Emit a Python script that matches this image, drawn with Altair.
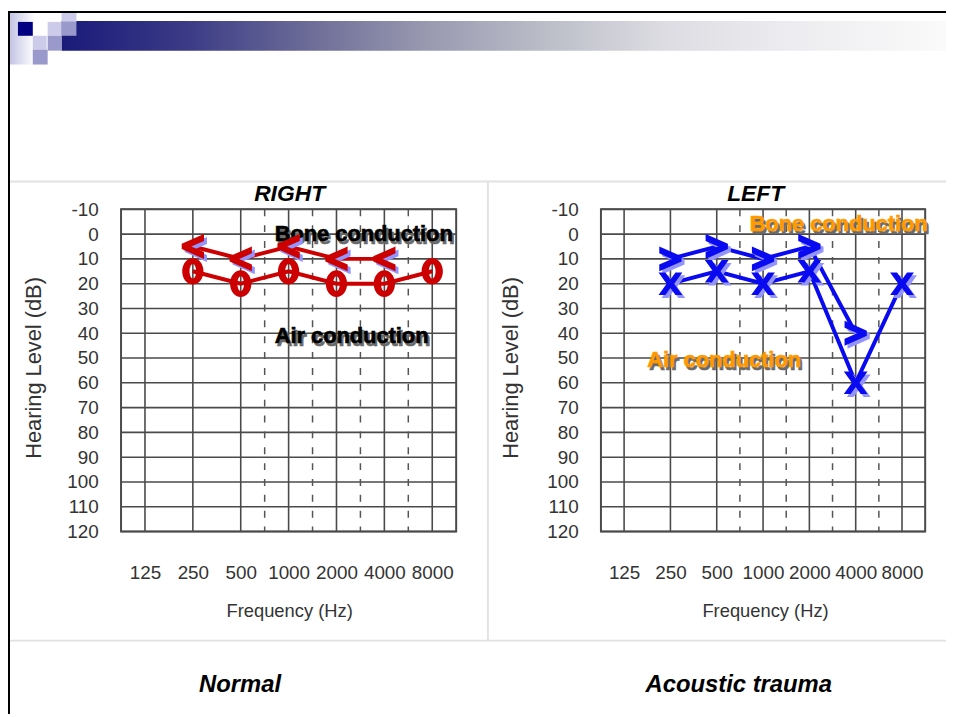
import altair as alt
import pandas as pd

# ---------------- data ----------------
freqs = [125, 250, 500, 1000, 2000, 4000, 8000]
half_octaves = [750, 1500, 3000, 6000]
db_ticks = list(range(-10, 121, 10))

right_air_freq = [250, 500, 1000, 2000, 4000, 8000]
right_air_db = [15, 20, 15, 20, 20, 15]
right_bone_freq = [250, 500, 1000, 2000, 4000]
right_bone_db = [5, 10, 5, 10, 10]

left_air_freq = [250, 500, 1000, 2000, 4000, 8000]
left_air_db = [20, 15, 20, 15, 60, 20]
left_bone_freq = [250, 500, 1000, 2000, 4000]
left_bone_db = [10, 5, 10, 5, 40]

panel_titles = ["RIGHT", "LEFT"]
captions = ["Normal", "Acoustic trauma"]
x_title = "Frequency (Hz)"
y_title = "Hearing Level (dB)"
bone_label = "Bone conduction"
air_label = "Air conduction"

# ---------------- layout / style ----------------
W, H = 946, 709
XR = {"R": [114, 452], "L": [598, 925]}
YR = [200, 525]
SANS = "Liberation Sans, Arial, Helvetica, sans-serif"
GRID = "#4a4a4a"
RED = "#cc0000"
BLUE = "#0a0af0"
SHADOW = "#9494ff"
ORANGE = "#ff9900"
TICK = "#333333"

ONE = pd.DataFrame({"k": [0]})
OCT = "log(datum.f/125)/LN2"

O_PATH = ("M0,-1 C0.442,-1 0.8,-0.552 0.8,0 C0.8,0.552 0.442,1 0,1 "
          "C-0.442,1 -0.8,0.552 -0.8,0 C-0.8,-0.552 -0.442,-1 0,-1 Z "
          "M0,-0.55 C-0.138,-0.55 -0.25,-0.304 -0.25,0 C-0.25,0.304 -0.138,0.55 0,0.55 "
          "C0.138,0.55 0.25,0.304 0.25,0 C0.25,-0.304 0.138,-0.55 0,-0.55 Z")
X_PATH = ("M-0.95,-0.9 L-0.4,-0.9 L0,-0.34 L0.4,-0.9 L0.95,-0.9 L0.3,0 "
          "L0.95,0.9 L0.4,0.9 L0,0.34 L-0.4,0.9 L-0.95,0.9 L-0.3,0 Z")
LT_PATH = "M0.85,-0.95 L0.85,-0.42 L-0.12,0 L0.85,0.42 L0.85,0.95 L-0.85,0.2 L-0.85,-0.2 Z"
GT_PATH = "M-0.85,-0.95 L-0.85,-0.42 L0.12,0 L-0.85,0.42 L-0.85,0.95 L0.85,0.2 L0.85,-0.2 Z"


def xsc(p):
    return alt.Scale(domain=[-0.5, 6.5], range=XR[p], nice=False, zero=False)


def ysc():
    return alt.Scale(domain=[-10, 120], range=YR, nice=False, zero=False)


def box(x1, x2, y1, y2, fill):
    return alt.Chart(ONE).mark_rect(fill=fill, strokeWidth=0).encode(
        x=alt.value(x1), x2=alt.value(x2), y=alt.value(y1), y2=alt.value(y2))


def label(text, x, y, size, color="#000", weight="normal", style="normal",
          font=SANS, angle=0):
    return alt.Chart(ONE).mark_text(
        text=text, fontSize=size, color=color, fontWeight=weight, fontStyle=style,
        font=font, angle=angle, align="center", baseline="middle"
    ).encode(x=alt.value(x), y=alt.value(y))


layers = []

# ---------------- slide decoration ----------------
layers.append(box(2, 27, 0, 54, alt.Gradient(
    gradient="linear", x1=0, x2=1, y1=0, y2=0,
    stops=[alt.GradientStop(color="#c4c4e4", offset=0),
           alt.GradientStop(color="#ffffff", offset=1)])))
layers.append(box(54, W, 10, 40, alt.Gradient(
    gradient="linear", x1=0, x2=1, y1=0, y2=0,
    stops=[alt.GradientStop(color="#1a1a7a", offset=0),
           alt.GradientStop(color="#3a3a86", offset=0.14),
           alt.GradientStop(color="#6c6c98", offset=0.28),
           alt.GradientStop(color="#9898b0", offset=0.41),
           alt.GradientStop(color="#bcbec8", offset=0.55),
           alt.GradientStop(color="#dcdce2", offset=0.68),
           alt.GradientStop(color="#ececf0", offset=0.82),
           alt.GradientStop(color="#fafafa", offset=1)])))
layers.append(box(10, 25, 11, 25, "#000080"))
layers.append(box(25, 39, 25, 39, "#ccccea"))
layers.append(box(25, 40, 39, 54, "#9999cc"))
layers.append(box(40, 54, 11, 25, "#ccccea"))
layers.append(box(40, 54, 25, 40, "#9999cc"))
layers.append(box(54, 69, 0, 11, "#ccccea"))
layers.append(box(54, 69, 11, 25, "#9999cc"))
layers.append(box(0, W, 0, 2, "#000000"))
layers.append(box(0, 2, 0, H, "#000000"))
layers.append(box(2, W, 171, 173, "#e2e2e2"))
layers.append(box(2, W, 634, 636, "#e2e2e2"))
layers.append(box(483, 485, 172, 635, "#e2e2e2"))


# ---------------- panel grids and axes ----------------
def panel_grid(p):
    xo = XR[p][0]
    out = []
    out.append(alt.Chart(pd.DataFrame({"db": db_ticks})).mark_rule(
        color=GRID, strokeWidth=1.6).encode(
        y=alt.Y("db:Q", scale=ysc(), axis=alt.Axis(
            orient="left", offset=-xo, values=db_ticks,
            labelExpr="'' + datum.value", domain=False, ticks=False, tickSize=0,
            grid=False, labelPadding=23, labelFont=SANS, labelFontSize=19,
            labelColor=TICK, labelFlush=False, labelOverlap=False, title=None)),
        x=alt.XDatum(-0.5, scale=xsc(p), axis=None),
        x2=alt.X2Datum(6.5)))
    label_list = "[" + ",".join("'%d'" % f for f in freqs) + "]"
    out.append(alt.Chart(pd.DataFrame({"f": freqs})).transform_calculate(
        o=OCT).mark_rule(color=GRID, strokeWidth=1.6).encode(
        x=alt.X("o:Q", scale=xsc(p), axis=alt.Axis(
            orient="bottom", offset=YR[1] - H, values=list(range(len(freqs))),
            labelExpr=label_list + "[round(datum.value)]", domain=False,
            ticks=False, tickSize=0, grid=False, labelPadding=41,
            labelBaseline="middle", labelFont=SANS, labelFontSize=19,
            labelColor=TICK, labelFlush=False, labelOverlap=False, title=None)),
        y=alt.YDatum(-10, scale=ysc(), axis=None),
        y2=alt.Y2Datum(120)))
    out.append(alt.Chart(pd.DataFrame({"f": half_octaves})).transform_calculate(
        o="floor(" + OCT + ") + 0.5").mark_rule(
        color="#555555", strokeWidth=1.5, strokeDash=[7, 9]).encode(
        x=alt.X("o:Q", scale=xsc(p), axis=None),
        y=alt.YDatum(-10, scale=ysc(), axis=None),
        y2=alt.Y2Datum(120)))
    out.append(alt.Chart(ONE).mark_rect(
        fill="transparent", stroke=GRID, strokeWidth=2).encode(
        x=alt.XDatum(-0.5, scale=xsc(p), axis=None), x2=alt.X2Datum(6.5),
        y=alt.YDatum(-10, scale=ysc(), axis=None), y2=alt.Y2Datum(120)))
    return out


layers += panel_grid("R")
layers += panel_grid("L")

# ---------------- titles ----------------
layers.append(label(panel_titles[0], 284, 185, 23, weight="bold", style="italic"))
layers.append(label(panel_titles[1], 754, 185, 23, weight="bold", style="italic"))
layers.append(label(y_title, 26, 360, 22, color=TICK, angle=270))
layers.append(label(y_title, 507, 360, 22, color=TICK, angle=270))
layers.append(label(x_title, 284, 605, 18.5, color=TICK))
layers.append(label(x_title, 764, 605, 18.5, color=TICK))
layers.append(label(captions[0], 234, 680, 24, weight="bold", style="italic"))
layers.append(label(captions[1], 737, 680, 24, weight="bold", style="italic"))


# ---------------- annotations ----------------
def annot(p, text, xi, ydb, color):
    enc = dict(x=alt.XDatum(xi, scale=xsc(p), axis=None),
               y=alt.YDatum(ydb, scale=ysc(), axis=None))
    common = dict(text=text, align="left", baseline="middle", font=SANS,
                  fontSize=22, fontWeight="bold", strokeWidth=0.7)
    sh = alt.Chart(ONE).mark_text(color="#6a6a6a", stroke="#6a6a6a", dx=2, dy=3,
                                  **common).encode(**enc)
    fg = alt.Chart(ONE).mark_text(color=color, stroke=color, **common).encode(**enc)
    return [sh, fg]


layers += annot("R", bone_label, 2.71, 0, "#000000")
layers += annot("R", air_label, 2.71, 41, "#000000")
layers += annot("L", bone_label, 2.71, -4, ORANGE)
layers += annot("L", air_label, 0.5, 51, ORANGE)


# ---------------- data series ----------------
def series(p, fr, db, color, path, size, shadow=None):
    base = alt.Chart(pd.DataFrame({"f": fr, "db": db})).transform_calculate(o=OCT)
    enc = dict(x=alt.X("o:Q", scale=xsc(p), axis=None),
               y=alt.Y("db:Q", scale=ysc(), axis=None))
    out = [base.mark_line(color=color, strokeWidth=4).encode(**enc)]
    if shadow:
        out.append(base.mark_point(shape=path, filled=True, size=size, color=shadow,
                                   opacity=1, xOffset=3, yOffset=3).encode(**enc))
    out.append(base.mark_point(shape=path, filled=True, size=size, color=color,
                               opacity=1).encode(**enc))
    return out


layers += series("R", right_bone_freq, right_bone_db, RED, LT_PATH, 700, SHADOW)
layers += series("R", right_air_freq, right_air_db, RED, O_PATH, 720)
layers += series("L", left_bone_freq, left_bone_db, BLUE, GT_PATH, 700, SHADOW)
layers += series("L", left_air_freq, left_air_db, BLUE, X_PATH, 640, SHADOW)

chart = alt.layer(*layers).resolve_scale(
    x="independent", y="independent"
).properties(
    width=W, height=H, padding=0,
    autosize=alt.AutoSizeParams(type="none"),
    background="white",
).configure_view(strokeWidth=0)

chart.save("out.html", embed_options={"renderer": "svg", "actions": False})
